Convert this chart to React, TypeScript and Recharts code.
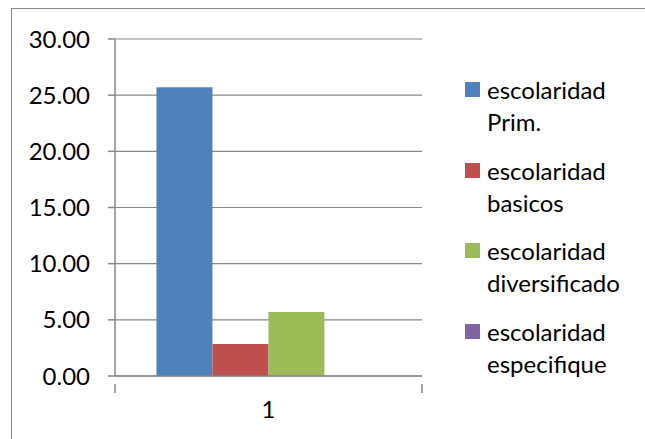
import React from "react";
import { BarChart, Bar, XAxis, YAxis, CartesianGrid } from "recharts";

const categories = ["1"];
const seriesNames = [
  "escolaridad Prim.",
  "escolaridad basicos",
  "escolaridad diversificado",
  "escolaridad especifique",
];
const seriesValues = [25.7, 2.85, 5.7, 0];
const seriesColors = ["#4F81BD", "#C0504D", "#9BBB59", "#8064A2"];
const yTicks = [0, 5, 10, 15, 20, 25, 30];

const FONT = "Lato, 'Open Sans', sans-serif";
const FONT_SIZE = 24;
const AXIS_GREY = "#868686";

const data = categories.map((name) => {
  const row: Record<string, string | number> = { name };
  seriesNames.forEach((s, i) => {
    row[`s${i}`] = seriesValues[i];
  });
  return row;
});

// category tick: label in the middle, tick marks at both band edges
function CategoryTick(props: any) {
  const { x, y, payload } = props;
  const half = payload?.offset ?? 153.5;
  return (
    <g>
      <line x1={x - half} y1={y} x2={x - half} y2={y + 9} stroke={AXIS_GREY} strokeWidth={1.5} />
      <line x1={x + half} y1={y} x2={x + half} y2={y + 9} stroke={AXIS_GREY} strokeWidth={1.5} />
      <text x={x} y={y + 34} textAnchor="middle" fontSize={FONT_SIZE} fontFamily={FONT} fill="#000">
        {payload.value}
      </text>
    </g>
  );
}

function SideLegend() {
  return (
    <div style={{ position: "absolute", left: 465, top: 74, fontFamily: FONT, fontSize: FONT_SIZE, lineHeight: "32px", color: "#000" }}>
      {seriesNames.map((name, i) => (
        <div key={name} style={{ display: "flex", alignItems: "flex-start", marginBottom: 16.6 }}>
          <div style={{ width: 15, height: 15, background: seriesColors[i], marginTop: 8, marginRight: 7, flexShrink: 0 }} />
          <div style={{ width: 150 }}>{name}</div>
        </div>
      ))}
    </div>
  );
}

export default function App() {
  return (
    <div style={{ position: "absolute", left: 0, top: 0, width: 645, height: 439, overflow: "hidden", background: "#fff" }}>
      <div
        style={{
          position: "absolute",
          left: 11,
          top: 8,
          width: 700,
          height: 500,
          borderTop: `1.5px solid ${AXIS_GREY}`,
          borderLeft: `1.5px solid ${AXIS_GREY}`,
        }}
      />
      <BarChart
        width={645}
        height={439}
        data={data}
        margin={{ top: 39, right: 223, left: 0, bottom: 23 }}
        barGap={0}
        barCategoryGap="13.5%"
      >
        <CartesianGrid vertical={false} stroke={AXIS_GREY} strokeWidth={1.2} />
        <XAxis
          dataKey="name"
          height={40}
          stroke={AXIS_GREY}
          strokeWidth={1.5}
          tickLine={false}
          tick={<CategoryTick />}
          interval={0}
        />
        <YAxis
          width={115}
          domain={[0, 30]}
          ticks={yTicks}
          tickFormatter={(v: number) => v.toFixed(2)}
          stroke={AXIS_GREY}
          strokeWidth={1.5}
          tickSize={7}
          tickMargin={18}
          tick={{ fontSize: FONT_SIZE, fontFamily: FONT, fill: "#000" }}
        />
        {seriesNames.map((name, i) => (
          <Bar key={name} dataKey={`s${i}`} name={name} fill={seriesColors[i]} isAnimationActive={false} />
        ))}
      </BarChart>
      <SideLegend />
    </div>
  );
}
